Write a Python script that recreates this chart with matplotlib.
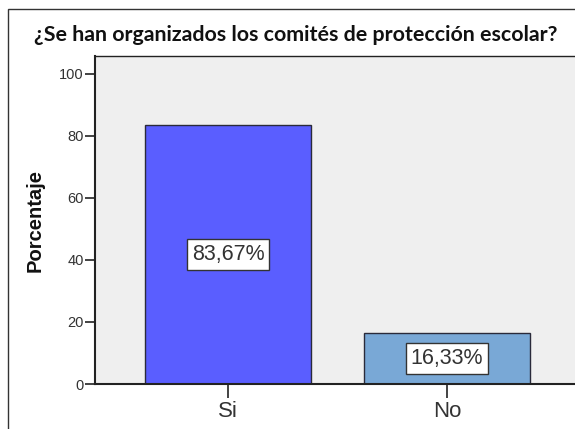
import matplotlib
matplotlib.use("Agg")
import matplotlib.pyplot as plt
from matplotlib.patches import Rectangle

categorias = ["Si", "No"]
porcentajes = [83.67, 16.33]
etiquetas = ["83,67%", "16,33%"]
colores = ["#5a5eff", "#79a8d6"]
y_ticks = [0, 20, 40, 60, 80, 100]

arial = ["Liberation Sans", "DejaVu Sans"]
plt.rcParams["font.family"] = arial

fig = plt.figure(figsize=(5.75, 4.29), dpi=100)
fig.patch.set_facecolor("white")

# marco exterior (recortado por la derecha y abajo como en la captura)
fig.patches.append(Rectangle((8 / 575, -0.05), 1.2, 1 - 9 / 429 + 0.05,
                             transform=fig.transFigure, fill=False,
                             edgecolor="#333333", linewidth=1.0))

ax = fig.add_axes([95 / 575, 45 / 429, 485 / 575, 328 / 429])
ax.set_facecolor("#efefef")

x = range(len(categorias))
ax.bar(x, porcentajes, width=0.758, color=colores, edgecolor="#2a2a3a",
       linewidth=1.0, zorder=2)

# etiquetas con recuadro blanco en medio de cada barra
for i, (v, txt) in enumerate(zip(porcentajes, etiquetas)):
    ax.text(i, v / 2, txt, ha="center", va="center", fontsize=15.5,
            family=arial, color="#333333", zorder=3,
            bbox=dict(boxstyle="square,pad=0.22", facecolor="white",
                      edgecolor="#333333", linewidth=1.0))

ax.set_xlim(-0.607, 1.607)
ax.set_ylim(0, 105.8)
ax.set_xticks(list(x))
ax.set_xticklabels(categorias, fontsize=16, color="#333333", family=arial)
ax.set_yticks(y_ticks)
ax.set_yticklabels([str(t) for t in y_ticks], fontsize=10.5, color="#333333",
                   family=arial)
ax.tick_params(axis="y", length=7, width=1.2, pad=1, color="#222222")
ax.tick_params(axis="x", length=10, width=1.2, pad=2, color="#222222")

for s in ax.spines.values():
    s.set_color("#222222")
    s.set_linewidth(1.0)
ax.spines["left"].set_linewidth(1.5)
ax.spines["bottom"].set_linewidth(1.5)

fig.text(35 / 575, 1 - 220 / 429, "Porcentaje", rotation=90, ha="center",
         va="center", fontsize=14.5, fontweight="bold", family=arial,
         color="#111111")

fig.text(296 / 575, 1 - 35 / 429,
         "¿Se han organizados los comités de protección escolar?",
         ha="center", va="center", fontsize=15.4, fontweight="bold",
         family=["Lato", "DejaVu Sans"], color="#111111")

fig.savefig("out.png", dpi=100)
